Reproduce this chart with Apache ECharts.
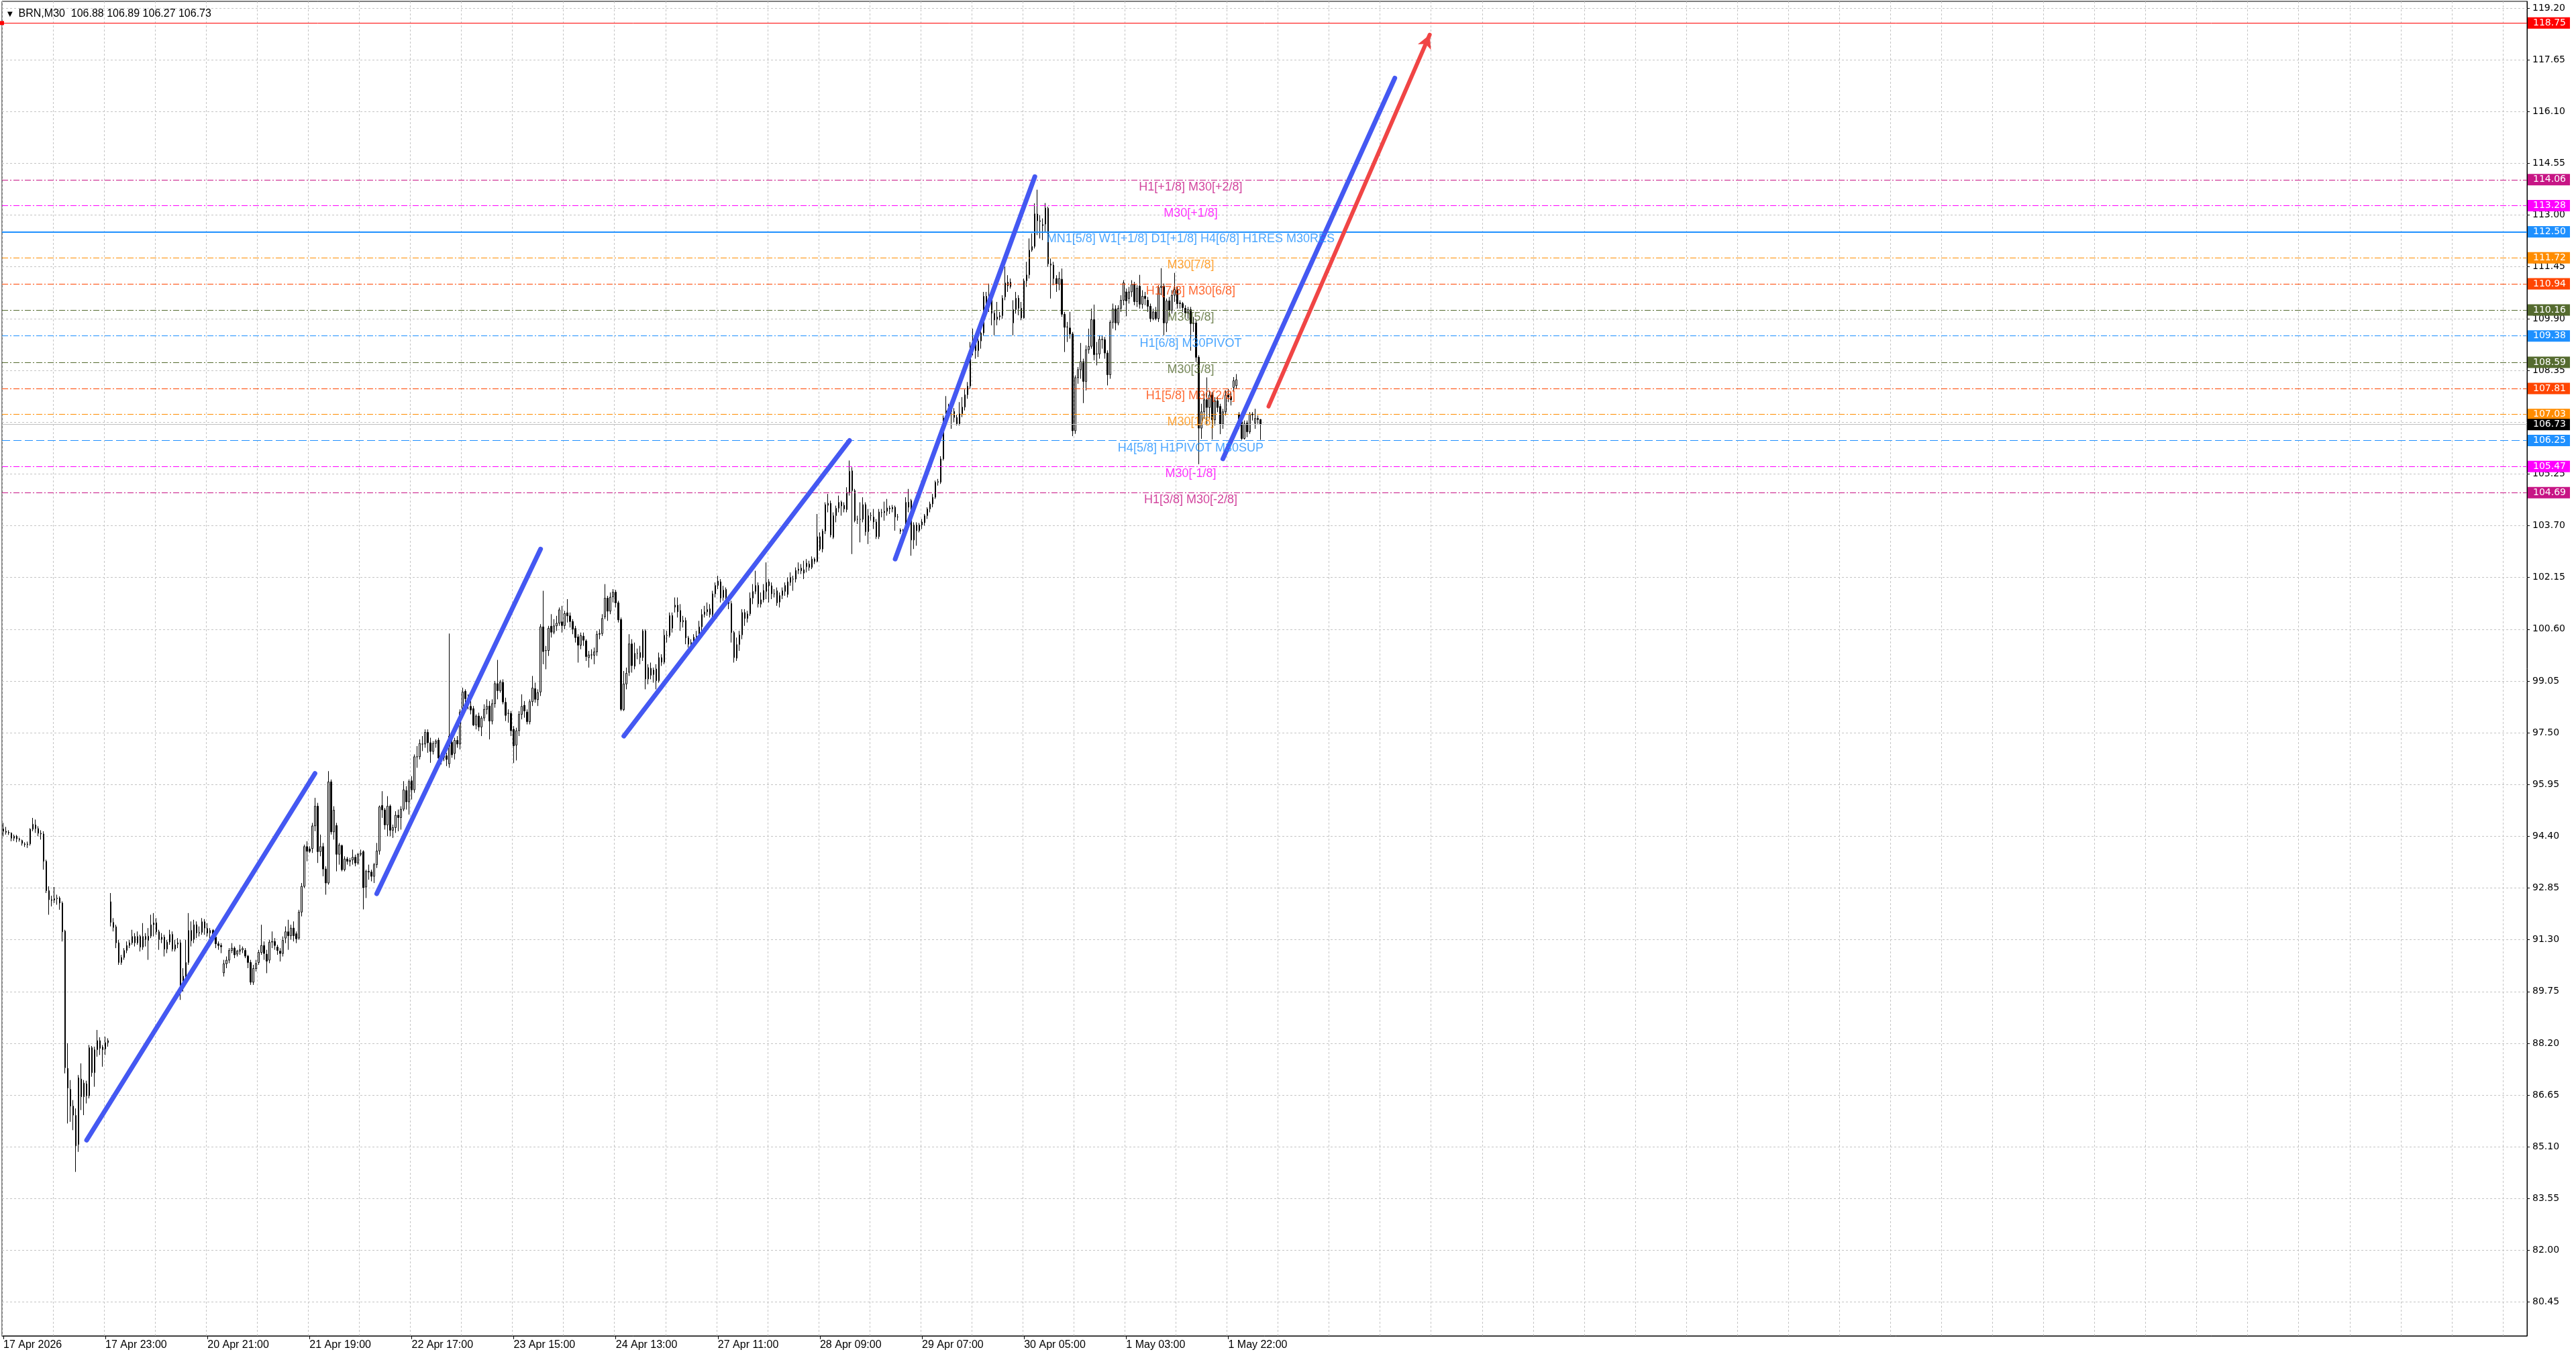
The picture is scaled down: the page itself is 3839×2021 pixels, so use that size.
<!DOCTYPE html>
<html><head><meta charset="utf-8">
<script src="https://cdn.jsdelivr.net/npm/echarts@6/dist/echarts.min.js"></script>
<style>html,body{margin:0;padding:0;background:#fff;overflow:hidden}#c{width:3839px;height:2021px}</style>
</head><body><div id="c"></div>
<script>
// ---------------- DATA ----------------
const TIME_LABELS = ['17 Apr 2026','17 Apr 23:00','20 Apr 21:00','21 Apr 19:00','22 Apr 17:00','23 Apr 15:00','24 Apr 13:00','27 Apr 11:00','28 Apr 09:00','29 Apr 07:00','30 Apr 05:00','1 May 03:00','1 May 22:00'];
const Y_TICKS = [80.45,82.00,83.55,85.10,86.65,88.20,89.75,91.30,92.85,94.40,95.95,97.50,99.05,100.60,102.15,103.70,105.25,106.80,108.35,109.90,111.45,113.00,114.55,116.10,117.65,119.20];
// [open, close, low, high]
const OHLC = [
[94.62,94.55,94.40,94.80],[94.55,94.52,94.45,94.68],[94.52,94.50,94.44,94.58],[94.49,94.34,94.25,94.52],[94.34,94.40,94.26,94.45],
[94.40,94.32,94.22,94.44],[94.32,94.30,94.24,94.36],[94.27,94.19,94.12,94.30],[94.17,94.15,94.08,94.22],[94.15,94.17,94.05,94.24],
[94.17,94.61,94.12,94.64],[94.61,94.76,94.55,94.95],[94.74,94.63,94.50,94.90],[94.63,94.49,94.40,94.70],[94.49,94.47,94.30,94.58],
[94.47,93.65,93.40,94.55],[93.65,92.77,92.70,93.70],[92.77,92.50,92.05,92.90],[92.50,92.48,92.30,92.62],[92.49,92.53,92.40,92.88],
[92.53,92.55,92.35,92.65],[92.55,92.40,92.20,92.60],[92.40,91.54,91.25,92.45],[91.56,87.47,87.30,91.60],[87.45,86.86,85.80,88.20],
[86.82,86.32,85.85,87.10],[86.32,86.05,85.60,86.50],[86.04,85.13,84.35,86.25],[85.17,87.17,84.95,87.25],[87.13,86.60,86.20,87.60],
[86.60,87.01,86.05,87.10],[86.63,86.99,86.40,87.08],[86.63,88.07,86.55,88.15],[88.07,87.32,87.20,88.12],[87.32,88.01,86.90,88.10],
[88.01,88.28,87.80,88.60],[88.28,88.05,87.85,88.38],[88.09,88.01,87.50,88.15],[88.03,88.22,87.85,88.40],[88.22,88.28,88.10,88.35],
[92.44,91.82,91.70,92.70],[91.82,91.67,91.55,91.95],[91.69,91.21,91.05,91.75],[91.21,90.62,90.55,91.30],[90.62,90.77,90.55,90.85],
[90.77,90.98,90.70,91.05],[90.98,91.13,90.90,91.25],[91.13,91.21,91.05,91.30],[91.21,91.40,91.15,91.60],[91.40,91.21,91.10,91.50],
[91.21,91.40,91.15,91.55],[91.40,91.08,90.95,91.45],[91.08,91.40,91.00,91.80],[91.40,91.31,91.10,91.50],[91.28,91.41,90.70,91.65],
[91.41,91.75,91.35,92.05],[91.75,91.81,91.40,92.10],[91.81,91.54,91.45,91.95],[91.54,91.31,91.00,91.60],[91.31,91.38,91.20,91.50],
[91.38,91.02,90.80,91.45],[91.02,91.23,90.90,91.30],[91.23,91.46,91.15,91.60],[91.46,91.02,90.95,91.55],[91.02,91.15,90.95,91.30],
[91.17,91.21,91.05,91.35],[91.21,89.85,89.50,91.30],[89.85,90.21,89.75,90.45],[90.21,90.62,90.15,91.30],[90.62,91.58,90.55,92.10],
[91.58,91.27,91.10,91.85],[91.31,91.75,91.20,91.90],[91.75,91.50,91.35,91.85],[91.50,91.52,91.40,91.70],[91.52,91.84,91.45,91.95],
[91.84,91.65,91.45,91.92],[91.64,91.50,91.40,91.80],[91.50,91.58,91.30,91.65],[91.58,91.38,91.30,91.62],[91.38,91.18,91.05,91.45],
[91.18,91.13,91.00,91.25],[91.13,91.09,90.90,91.20],[90.31,90.58,90.20,90.70],[90.58,90.69,90.45,90.80],[90.69,90.98,90.60,91.05],
[90.98,91.05,90.90,91.20],[91.05,90.85,90.75,91.10],[90.87,90.96,90.80,91.00],[90.96,91.00,90.85,91.15],[91.00,91.04,90.90,91.10],
[90.98,90.81,90.75,91.05],[90.81,90.62,90.45,90.85],[90.62,90.03,89.95,90.70],[90.03,90.44,89.95,90.55],[90.44,90.59,90.35,90.70],
[90.62,90.92,90.55,91.00],[90.92,91.13,90.85,91.75],[91.13,90.89,90.70,91.25],[90.87,90.66,90.30,91.00],[90.69,91.23,90.60,91.30],
[91.23,91.25,91.05,91.55],[91.25,91.13,91.00,91.35],[91.08,90.98,90.85,91.15],[90.96,90.89,90.65,91.05],[90.89,91.28,90.80,91.40],
[91.35,91.54,91.20,91.70],[91.54,91.42,91.00,91.90],[91.42,91.65,91.30,91.75],[91.65,91.42,91.25,91.85],[91.48,91.33,91.20,91.55],
[91.35,92.13,91.30,92.20],[92.13,92.90,92.00,93.00],[92.90,94.09,92.85,94.15],[94.09,93.95,93.65,94.25],[94.02,93.95,93.90,94.10],
[94.03,94.71,93.90,94.80],[94.71,95.30,94.55,95.55],[95.30,93.94,93.60,95.40],[93.94,94.09,93.80,94.45],[94.09,93.42,93.20,94.20],
[93.42,93.00,92.65,93.50],[93.00,96.03,92.95,96.35],[96.03,94.53,94.45,96.10],[94.53,95.18,94.30,95.30],
[94.72,93.86,93.35,94.80],[93.86,94.14,93.55,94.20],[94.12,93.40,93.35,94.15],[93.40,93.72,93.35,93.80],[93.72,93.65,93.55,93.78],
[93.64,93.68,93.50,93.75],[93.69,93.77,93.55,94.00],[93.77,93.60,93.50,93.85],[93.60,93.86,93.55,93.90],[93.86,93.89,93.80,94.00],
[93.94,92.86,92.21,93.98],[92.88,93.35,92.55,93.40],[93.35,93.33,93.10,93.55],[93.33,93.20,93.05,93.40],[93.20,93.55,93.00,93.60],
[93.55,93.96,93.45,94.20],[93.96,95.28,93.85,95.32],[95.32,95.19,94.95,95.75],[95.19,94.74,94.60,95.25],[94.74,95.30,94.40,95.60],
[95.30,94.58,94.40,95.35],[94.58,94.66,94.35,94.75],[94.66,95.03,94.50,95.15],[95.03,94.96,94.55,95.20],[94.96,95.21,94.60,95.30],
[95.21,95.79,95.15,96.05],[95.77,95.43,95.20,95.90],[95.43,96.04,95.05,96.10],[96.06,95.79,95.50,96.20],[95.79,96.78,95.70,96.85],
[96.78,96.78,96.45,97.10],[96.78,97.18,96.70,97.30],[97.16,97.16,96.95,97.40],[97.16,97.51,97.05,97.60],[97.51,97.20,96.90,97.60],
[97.20,96.94,96.60,97.35],[96.94,97.18,96.85,97.25],[97.18,97.25,97.05,97.30],[97.28,96.74,96.60,97.35],[96.74,96.76,96.55,96.90],
[96.76,96.82,96.65,96.95],[96.81,96.70,96.50,96.90],[96.57,97.40,96.45,100.47],[97.21,96.84,96.75,97.45],[96.88,97.27,96.70,97.35],
[97.27,97.16,97.05,97.40],[97.16,98.12,97.00,98.20],[98.12,98.72,98.00,98.85],[98.74,98.52,98.30,98.80],[98.52,98.42,98.20,98.65],
[98.29,98.18,98.05,98.45],[98.22,97.73,97.70,98.30],[97.73,98.00,97.60,98.05],[98.00,97.67,97.55,98.10],[97.67,97.94,97.40,98.00],
[97.94,98.20,97.85,98.35],[98.20,98.29,98.05,98.50],[98.30,97.85,97.30,98.45],[97.85,98.37,97.75,98.50],[98.37,98.97,98.25,99.05],
[98.97,98.76,98.50,99.68],[98.76,99.02,98.70,99.08],[99.01,98.42,98.35,99.10],[98.41,98.02,97.85,98.55],[98.08,98.08,97.80,98.20],
[98.08,97.56,97.40,98.15],[97.60,97.11,96.59,97.70],[97.13,97.56,96.67,97.65],[97.56,98.05,97.40,98.15],[98.05,98.29,97.90,98.65],
[98.32,98.15,97.95,98.45],[98.12,97.83,97.75,98.20],[97.83,98.43,97.75,98.50],[98.43,98.84,98.30,99.20],[98.82,98.50,98.40,99.00],
[98.49,98.70,98.30,98.80],[98.72,100.67,98.60,100.75],[100.67,99.93,99.55,101.75],[99.96,99.96,99.40,100.10],[99.96,100.63,99.80,100.70],
[100.69,100.51,100.35,101.05],[100.51,100.70,100.45,100.90],[100.70,100.78,100.55,101.00],[100.78,101.18,100.70,101.25],[100.82,100.71,100.50,101.30],
[100.71,101.07,100.60,101.15],[101.09,101.00,100.80,101.50],[101.00,100.83,100.65,101.10],[100.83,100.60,100.45,100.90],[100.62,100.35,100.20,100.70],
[100.37,100.12,99.60,100.45],[100.12,100.41,100.00,100.50],[100.39,100.27,100.10,100.50],[100.25,99.78,99.65,100.30],[99.75,99.83,99.45,99.95],
[99.83,99.83,99.70,100.00],[99.82,99.92,99.55,100.05],[99.92,100.45,99.80,100.55],[100.45,100.47,100.30,100.60],[100.47,100.92,100.40,101.05],
[100.97,101.53,100.90,101.95],[101.53,101.14,100.85,101.60],[101.14,101.56,101.05,101.70],[101.57,101.71,101.40,101.80],[101.71,101.39,101.25,101.78],
[101.39,100.88,100.80,101.45],[100.89,98.20,98.15,100.95],[98.19,98.96,98.15,99.35],[98.96,99.28,98.80,99.45],[99.31,100.16,99.20,100.45],
[100.16,99.51,99.30,100.30],[99.49,99.88,99.40,100.20],[99.88,99.88,99.70,100.02],[99.90,99.75,99.55,100.10],[99.75,100.55,99.65,100.60],
[100.55,99.11,98.80,100.60],[99.11,99.45,98.95,99.55],[99.43,99.22,99.10,99.60],[99.24,99.38,99.00,99.45],[99.41,99.06,98.80,99.55],
[99.06,99.75,99.00,99.90],[99.75,99.61,99.50,99.85],[99.61,100.42,99.55,100.60],[100.41,100.41,100.20,100.55],[100.41,101.01,100.35,101.10],
[101.01,100.63,100.50,101.10],[101.26,101.32,101.10,101.55],[101.32,101.12,100.95,101.55],[101.16,100.82,100.55,101.35],[100.82,100.86,100.65,101.00],
[100.86,100.34,100.15,100.95],[100.34,100.15,100.05,100.40],[100.17,100.20,100.05,100.30],[100.20,100.36,100.10,100.45],[100.36,100.39,100.25,100.55],
[100.39,100.67,100.30,100.85],[100.67,101.04,100.55,101.20],[101.04,101.12,100.95,101.30],[101.12,101.19,101.00,101.40],[101.21,101.04,100.95,101.35],
[101.04,101.66,100.95,101.75],[101.66,101.91,101.55,102.00],[101.91,102.04,101.80,102.20],[102.02,101.53,101.40,102.10],[101.55,101.77,101.45,101.90],
[101.79,101.55,101.40,101.85],[101.53,101.37,101.20,101.60],[101.37,100.50,100.20,101.45],[100.50,99.75,99.60,100.55],[99.73,100.14,99.65,100.35],
[100.14,100.43,99.95,100.55],[100.43,101.10,100.30,101.20],[101.10,100.92,100.70,101.20],[100.92,101.06,100.80,101.15],[101.06,101.53,101.00,101.70],
[101.53,101.73,101.35,101.95],[101.73,101.91,101.65,102.35],[101.91,101.36,101.25,102.00],[101.35,101.48,101.25,101.70],[101.48,101.76,101.40,101.95],
[101.73,102.00,101.50,102.60],[102.02,101.90,101.40,102.10],[101.90,101.66,101.50,102.00],[101.66,101.66,101.55,101.80],[101.75,101.39,101.30,101.85],
[101.41,101.61,101.25,101.70],[101.61,101.75,101.50,101.85],[101.73,101.91,101.60,102.00],[101.64,102.02,101.55,102.15],[102.00,102.15,101.90,102.30],
[102.10,102.10,101.75,102.20],[102.10,102.36,102.00,102.45],[102.36,102.40,102.25,102.60],[102.43,102.35,102.25,102.55],[102.38,102.28,102.10,102.65],
[102.47,102.58,102.30,102.70],[102.55,102.45,102.35,102.65],
[102.45,102.70,102.40,102.78],[102.70,102.63,102.55,102.75],[102.63,103.37,102.60,104.05],[103.37,103.00,102.95,103.50],[103.00,103.54,102.90,103.60],
[103.54,104.33,103.45,104.40],[104.31,104.37,104.10,104.65],[104.37,103.42,103.35,104.45],[103.35,104.00,103.30,104.10],[104.00,104.22,103.80,104.30],
[104.22,104.40,104.10,104.60],[104.40,104.29,104.00,104.45],[104.31,104.20,104.10,104.40],[104.18,104.70,104.10,104.85],[104.70,105.33,104.60,105.65],
[105.34,104.75,102.85,105.45],[104.75,103.85,103.80,104.80],[103.89,103.89,103.75,104.00],[103.89,103.89,103.20,104.40],[103.89,104.33,103.80,104.55],
[104.33,103.52,103.40,104.40],[103.52,104.00,103.15,104.20],[104.00,104.00,103.85,104.10],[103.96,103.81,103.60,104.20],[103.81,103.37,103.30,103.90],
[103.37,104.11,103.30,104.20],[104.09,104.09,103.95,104.20],[104.09,104.13,103.85,104.42],[104.13,104.23,104.00,104.50],[104.23,104.20,104.05,104.30],
[104.20,104.25,104.10,104.32],[104.25,103.96,103.55,104.30],[103.96,103.96,103.85,104.05],[103.57,103.53,103.45,103.62],[103.53,103.55,103.48,103.60],
[103.55,104.40,103.50,104.55],[104.40,104.25,104.10,104.80],[104.45,103.27,102.80,104.50],[103.27,103.72,103.00,103.80],[103.72,103.55,103.10,103.80],
[103.55,103.72,103.50,103.78],[103.72,103.81,103.60,103.90],[103.79,104.00,103.70,104.05],[104.00,104.20,103.90,104.25],[104.20,104.35,104.10,104.42],
[104.35,104.55,104.25,104.65],[104.55,105.00,104.50,105.05],[105.00,105.02,104.90,105.10],[105.00,105.70,104.95,105.78],[105.70,106.92,105.65,107.00],
[106.92,107.14,106.80,107.58],[107.14,107.20,107.00,107.35],[107.12,107.15,106.60,107.30],[107.12,106.94,106.80,107.22],[106.94,106.75,106.70,107.02],
[106.75,107.05,106.70,107.40],[107.05,107.25,106.95,107.55],[107.25,107.62,107.15,107.78],[107.62,107.88,107.50,108.00],[107.88,109.03,107.80,109.20],
[109.03,109.23,108.80,109.60],[109.23,108.94,108.70,109.40],[108.94,109.23,108.75,109.40],[109.23,109.47,109.00,109.60],[109.47,110.57,109.40,110.70],
[110.57,110.21,110.05,110.70],[110.40,110.32,110.10,110.95],[110.51,110.06,109.70,110.60],[110.06,109.86,109.40,110.15],[109.88,109.95,109.70,110.40],
[109.95,109.99,109.85,110.10],[109.99,110.51,109.90,110.60],[110.55,110.97,110.45,111.45],[110.99,110.88,110.70,111.20],[110.86,110.99,110.80,111.10],
[109.77,110.17,109.40,110.45],[110.17,110.51,110.05,110.70],[110.51,110.21,110.00,110.60],[110.21,109.92,109.85,110.40],[109.92,111.03,109.90,111.10],
[111.03,111.21,110.85,111.60],
[111.21,111.95,111.10,112.30],[111.95,112.06,111.90,112.45],[112.06,113.04,112.00,113.35],[113.03,112.83,112.40,113.76],[112.83,112.81,112.30,113.00],
[112.68,112.72,112.25,112.90],[112.73,113.21,112.50,113.36],[113.20,111.54,111.45,113.25],[111.54,111.50,110.50,111.70],[111.50,111.10,110.90,111.60],
[111.10,110.93,110.70,111.20],[110.93,111.10,110.75,111.30],[111.08,110.03,109.95,111.40],[110.03,109.64,108.90,110.10],[109.65,109.65,109.20,109.80],
[109.62,109.44,109.30,110.10],[109.44,106.54,106.38,109.50],[106.54,108.13,106.45,108.20],[108.13,108.37,107.95,108.45],[108.37,108.61,108.10,109.17],
[108.61,108.02,107.37,108.70],[108.02,108.97,107.75,109.10],[108.97,109.07,108.85,109.60],[109.07,109.87,109.00,110.20],[109.87,108.82,108.65,110.32],
[108.84,108.84,108.50,109.20],[108.84,109.28,108.70,109.40],[109.28,109.27,109.00,109.40],[109.27,108.87,108.70,109.35],[108.87,108.22,107.90,108.95],
[108.22,109.79,108.10,109.85],[109.79,110.19,109.60,110.35],[110.19,109.77,109.55,110.30],[109.77,110.21,109.70,110.30],[110.21,110.45,110.10,110.60],
[110.45,110.97,110.30,111.05],[110.70,110.43,109.97,110.80],[110.50,110.70,110.35,110.85],[110.70,110.92,110.55,111.05],[110.92,110.41,110.30,111.00],
[110.41,110.81,110.25,110.90],[110.87,110.33,110.20,111.21],[110.33,110.57,110.20,110.75],[110.57,110.50,110.30,110.70],[110.45,110.27,110.10,110.55],
[110.27,109.90,109.80,110.35],[109.90,110.10,109.85,110.20],[110.10,109.90,109.85,110.25],[109.90,110.83,109.80,110.90],[110.83,110.87,110.60,111.41],
[110.87,109.77,109.40,110.95],[109.77,110.43,109.50,110.50],[110.43,110.15,109.95,110.55],[110.15,110.60,110.05,110.75],[110.60,110.77,110.40,111.27],
[110.77,110.35,110.20,110.85],[110.37,110.35,110.20,110.45],[110.35,110.23,110.10,110.40],[110.21,110.07,109.95,110.30],[110.07,110.17,109.90,110.25],
[110.17,109.75,108.94,110.25],[109.75,109.77,109.50,109.95],[109.77,108.74,108.60,109.85],[108.74,106.62,105.54,108.80],[106.62,107.11,106.30,107.35],
[107.11,107.47,106.90,107.65],[107.47,107.24,106.70,108.14],[107.24,107.61,106.90,107.75],[107.61,106.87,106.28,107.70],[106.87,107.44,106.70,107.55],
[107.44,107.24,107.10,107.55],[107.27,106.74,106.44,107.35],[106.74,107.11,106.60,107.20],[107.11,107.61,107.00,107.75],[107.61,107.55,107.40,107.80],
[107.57,107.47,107.30,107.70],[107.84,108.04,107.70,108.15],[107.89,108.07,107.80,108.24],[107.04,106.81,106.60,107.10],[106.81,106.31,106.27,106.90],
[106.31,106.75,106.28,106.85],[106.77,106.51,106.35,106.85],[106.51,107.04,106.45,107.10],[107.04,107.02,106.85,107.10],[106.77,106.91,106.60,107.20],
[106.91,106.88,106.75,107.00],[106.88,106.73,106.27,106.89]
];
const LEVEL_PRICES = [114.06,113.28,112.50,111.72,110.94,110.16,109.38,108.59,107.81,107.03,106.25,105.47,104.69];
const LEVEL_TEXTS = ['H1[+1/8] M30[+2/8]','M30[+1/8]','MN1[5/8] W1[+1/8] D1[+1/8] H4[6/8] H1RES M30RES','M30[7/8]','H1[7/8] M30[6/8]','M30[5/8]','H1[6/8] M30PIVOT','M30[3/8]','H1[5/8] M30[2/8]','M30[1/8]','H4[5/8] H1PIVOT M30SUP','M30[-1/8]','H1[3/8] M30[-2/8]'];
const CURRENT_PRICE = 106.73;
const ALERT_PRICE = 118.75;
const TITLE_TEXT = 'BRN,M30  106.88 106.89 106.27 106.73';
// trend lines: [[barIndex, price], [barIndex, price]]
const TREND_LINES = [
  [[31, 85.30], [116, 96.28]],
  [[139, 92.68], [200, 103.00]],
  [[231, 97.40], [315, 106.25]],
  [[332, 102.70], [384, 114.15]],
  [[454, 105.70], [518, 117.10]]
];
const ARROW_LINE = [[471, 107.27], [531, 118.40]];

// ---------------- STYLE / LAYOUT ----------------
const N_SLOTS = 940, LABEL_STEP = 38, GRID_STEP = 19, LABEL_BAR = 442;
const DASHDOT = [9, 3, 2, 3];
const LEVEL_STYLES = [
  {c:'#C71585', t:DASHDOT, w:1}, {c:'#FF00FF', t:DASHDOT, w:1}, {c:'#1E90FF', t:'solid', w:2},
  {c:'#FF8C00', t:DASHDOT, w:1}, {c:'#FF4500', t:DASHDOT, w:1}, {c:'#556B2F', t:DASHDOT, w:1},
  {c:'#1E90FF', t:DASHDOT, w:1}, {c:'#556B2F', t:DASHDOT, w:1}, {c:'#FF4500', t:DASHDOT, w:1},
  {c:'#FF8C00', t:DASHDOT, w:1}, {c:'#1E90FF', t:[12, 5], w:1}, {c:'#FF00FF', t:DASHDOT, w:1},
  {c:'#C71585', t:DASHDOT, w:1}
];
const AX_FONT = 'DejaVu Sans';
const TXT_FONT = 'Liberation Sans';

const cats = [];
for (let i = 0; i < N_SLOTS; i++) {
  const k = i / LABEL_STEP;
  cats.push(i % LABEL_STEP === 0 && k < TIME_LABELS.length ? TIME_LABELS[k] : 'b' + i);
}
const isLabel = (i) => i % LABEL_STEP === 0 && i / LABEL_STEP < TIME_LABELS.length;

function priceBox(p, bg) {
  return {show: true, position: 'end', distance: 1, formatter: p.toFixed(2), color: '#fff',
    backgroundColor: bg, padding: [2, 6, 1, 8], fontFamily: AX_FONT, fontSize: 14};
}

const levelLines = LEVEL_PRICES.map((p, i) => ({
  yAxis: p,
  lineStyle: {color: LEVEL_STYLES[i].c, type: LEVEL_STYLES[i].t, width: LEVEL_STYLES[i].w},
  label: priceBox(p, LEVEL_STYLES[i].c)
}));
levelLines.push({yAxis: CURRENT_PRICE, lineStyle: {color: '#C0C0C0', type: 'solid', width: 1}, label: priceBox(CURRENT_PRICE, '#000')});
levelLines.push({yAxis: ALERT_PRICE, symbol: ['emptyRect','emptyRect'], symbolSize: 6,
  lineStyle: {color: '#FF0000', type: 'solid', width: 1}, label: priceBox(ALERT_PRICE, '#FF0000')});

const trendData = TREND_LINES.map(seg => [
  {coord: seg[0], lineStyle: {color: '#4458F2', width: 7, type: 'solid', cap: 'round'}},
  {coord: seg[1]}
]);
trendData.push([
  {coord: ARROW_LINE[0], symbol: 'none', lineStyle: {color: '#F04545', width: 6, type: 'solid', cap: 'round'}},
  {coord: ARROW_LINE[1], symbol: 'arrow', symbolSize: [16, 20]}
]);

const levelTextData = LEVEL_PRICES.map((p, i) => ({
  value: [LABEL_BAR, p],
  label: {show: true, position: 'bottom', distance: 1, formatter: LEVEL_TEXTS[i],
    color: LEVEL_STYLES[i].c, fontFamily: TXT_FONT, fontSize: 18}
}));

const chart = echarts.init(document.getElementById('c'), null, {renderer: 'canvas'});
chart.setOption({
  animation: false,
  backgroundColor: '#fff',
  title: {
    text: '{t|▼}  ' + TITLE_TEXT, left: 6, top: 8,
    textStyle: {fontFamily: TXT_FONT, fontSize: 16, fontWeight: 'normal', color: '#000',
      rich: {t: {fontFamily: AX_FONT, fontSize: 10, color: '#000'}}}
  },
  grid: {left: 3, right: 73, top: 2, bottom: 30, show: true, borderColor: '#000', borderWidth: 1,
    backgroundColor: '#fff', outerBoundsMode: 'none', containLabel: false},
  xAxis: {
    type: 'category', data: cats, boundaryGap: true,
    axisLine: {show: true, lineStyle: {color: '#000', width: 1}},
    axisTick: {show: true, alignWithLabel: true, interval: (i) => isLabel(i), length: 5, lineStyle: {color: '#000'}},
    axisLabel: {show: true, interval: (i) => isLabel(i), align: 'left', margin: 6, color: '#000',
      fontFamily: TXT_FONT, fontSize: 16},
    splitLine: {show: true, interval: (i) => i % GRID_STEP === 0, lineStyle: {color: '#C4C4C4', type: [3, 3], width: 1}}
  },
  yAxis: {
    type: 'value', position: 'right', min: 79.44, max: 119.40, scale: true,
    axisLine: {show: true, lineStyle: {color: '#000', width: 1}},
    axisTick: {show: true, customValues: Y_TICKS, length: 4, lineStyle: {color: '#000'}},
    axisLabel: {show: true, customValues: Y_TICKS, formatter: (v) => v.toFixed(2), margin: 8, color: '#000',
      fontFamily: AX_FONT, fontSize: 14},
    splitLine: {show: true, lineStyle: {color: '#C4C4C4', type: [3, 3], width: 1}}
  },
  series: [
    {
      type: 'candlestick', data: OHLC, barWidth: 2, silent: true, z: 2,
      itemStyle: {color: '#fff', color0: '#000', borderColor: '#000', borderColor0: '#000', borderWidth: 1},
      markLine: {silent: true, symbol: ['none', 'none'], animation: false, data: levelLines}
    },
    {
      type: 'scatter', silent: true, symbolSize: 2, z: 6, itemStyle: {color: 'rgba(255,255,255,0)'},
      labelLayout: {hideOverlap: false},
      data: levelTextData,
      markLine: {silent: true, symbol: ['none', 'none'], animation: false, label: {show: false}, data: trendData}
    }
  ]
});
</script>
</body></html>
